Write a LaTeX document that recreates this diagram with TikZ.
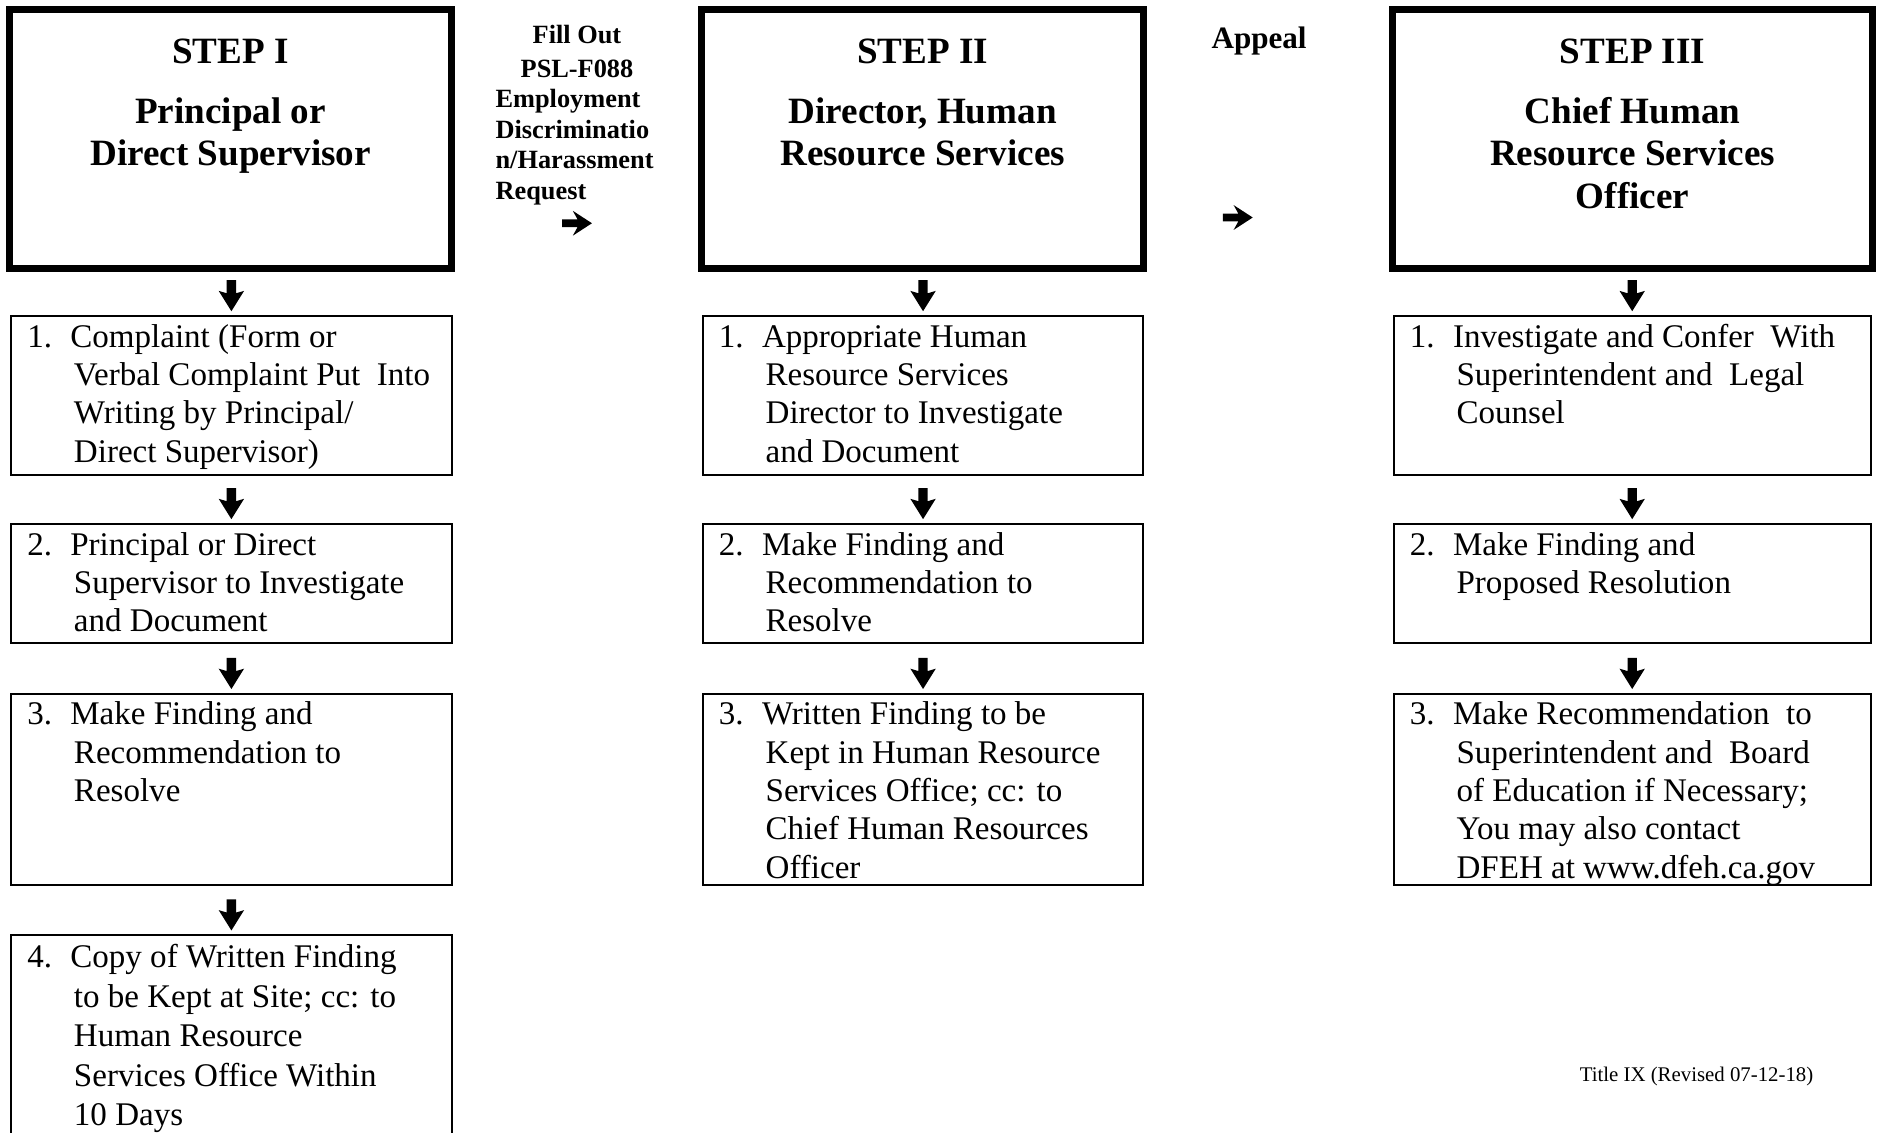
\documentclass[tikz,border=0pt]{standalone}
\usepackage{fontspec}
\setmainfont{Liberation Serif}
\usetikzlibrary{calc}
\newcommand\itemtab[3]{\begin{tabular}[t]{@{}l@{}l@{}}\makebox[19.5pt][l]{#1}&\hspace{-1.5pt}#2\\#3\end{tabular}}
\tikzset{
  bigbox/.style={draw, line width=3pt, minimum width=184.75pt, minimum height=108pt, inner sep=0pt},
  smallbox/.style={draw, line width=0.9pt, inner sep=0pt},
  bodytxt/.style={inner sep=0pt, anchor=base west, font=\fontsize{13.8pt}{16pt}\selectfont},
  titletxt/.style={inner sep=0pt, anchor=base, font=\bfseries\fontsize{15.5pt}{17.75pt}\selectfont},
  sidetxt/.style={inner sep=0pt, font=\bfseries\fontsize{11pt}{12.75pt}\selectfont},
  notetxt/.style={inner sep=0pt, anchor=base west, font=\fontsize{8.7pt}{10pt}\selectfont},
  downarr/.pic={\fill (0,0) -- (10.6,-17) -- (3.9,-15) -- (3.9,-26) -- (-3.9,-26) -- (-3.9,-15) -- (-10.6,-17) -- cycle;},
  rightarr/.pic={\fill (0,0) -- (-16,-10.4) -- (-12,-3.2) -- (-25,-3.2) -- (-25,3.2) -- (-12,3.2) -- (-16,10.4) -- cycle;}
}
\begin{document}
\begin{tikzpicture}[x=0.5pt,y=-0.5pt]
\useasboundingbox (0,0) rectangle (1568,946);

% big step boxes
\node[bigbox] (s1) at (192.65,116) {};
\node[bigbox] (s2) at (770.75,116) {};
\node[bigbox, minimum width=200.4pt] (s3) at (1363.8,116) {};

\node[titletxt] (h1) at ($(s1.north)+(0,48)$) {\begin{tabular}[t]{@{}c@{}}STEP I\\[7.25pt]Principal or\\Direct Supervisor\end{tabular}};
\node[titletxt] (h2) at ($(s2.north)+(0,48)$) {\begin{tabular}[t]{@{}c@{}}STEP II\\[7.25pt]Director, Human\\Resource Services\end{tabular}};
\node[titletxt] (h3) at ($(s3.north)+(0,48)$) {\begin{tabular}[t]{@{}c@{}}STEP III\\[7.25pt]Chief Human\\Resource Services\\Officer\end{tabular}};

% side labels
\node[sidetxt, anchor=base west] (fill) at (413.6,36) {\begin{tabular}[t]{@{}l@{}}\makebox[68pt][c]{Fill Out}\\[1.5pt]\makebox[68pt][c]{PSL-F088}\\Employment\\Discriminatio\\n/Harassment\\Request\end{tabular}};
\node[inner sep=0pt, anchor=base, font=\bfseries\fontsize{13pt}{15pt}\selectfont] (appeal) at (1051.8,40.4) {Appeal};
\coordinate (reqtip) at (494.5,186.5);
\coordinate (apptip) at (1046.5,181.7);
\pic at (reqtip) {rightarr};
\pic at (apptip) {rightarr};

% small boxes column I
\node[smallbox, minimum width=184pt, minimum height=66.35pt] (b1a) at (193.3,330.25) {};
\node[smallbox, minimum width=184pt, minimum height=49.75pt] (b1b) at (193.3,487.35) {};
\node[smallbox, minimum width=184pt, minimum height=79.95pt] (b1c) at (193.3,659.45) {};
\node[smallbox, minimum width=184pt, minimum height=89.4pt] (b1d) at (193.3,870.6) {};
% column II
\node[smallbox, minimum width=184pt, minimum height=66.35pt] (b2a) at (771.1,330.25) {};
\node[smallbox, minimum width=184pt, minimum height=49.75pt] (b2b) at (771.1,487.35) {};
\node[smallbox, minimum width=184pt, minimum height=79.95pt] (b2c) at (771.1,659.45) {};
% column III
\node[smallbox, minimum width=199.2pt, minimum height=66.35pt] (b3a) at (1363.5,330.25) {};
\node[smallbox, minimum width=199.2pt, minimum height=49.75pt] (b3b) at (1363.5,487.35) {};
\node[smallbox, minimum width=199.2pt, minimum height=79.95pt] (b3c) at (1363.5,659.45) {};

% texts column I
\node[bodytxt] (t1a) at ($(b1a.north west)+(14,27)$) {\itemtab{1.}{Complaint (Form or}{&Verbal Complaint Put\ \ Into\\&Writing by Principal/\\&Direct Supervisor)}};
\node[bodytxt] (t1b) at ($(b1b.north west)+(14,27)$) {\itemtab{2.}{Principal or Direct}{&Supervisor to Investigate\\&and Document}};
\node[bodytxt] (t1c) at ($(b1c.north west)+(14,27)$) {\itemtab{3.}{Make Finding and}{&Recommendation to\\&Resolve}};
\node[bodytxt, font=\fontsize{13.8pt}{16.5pt}\selectfont] (t1d) at ($(b1d.north west)+(14,28)$) {\itemtab{4.}{Copy of Written Finding}{&to be Kept at Site; cc: to\\&Human Resource\\&Services Office Within\\&10 Days}};
% texts column II
\node[bodytxt] (t2a) at ($(b2a.north west)+(14,27)$) {\itemtab{1.}{Appropriate Human}{&Resource Services\\&Director to Investigate\\&and Document}};
\node[bodytxt] (t2b) at ($(b2b.north west)+(14,27)$) {\itemtab{2.}{Make Finding and}{&Recommendation to\\&Resolve}};
\node[bodytxt] (t2c) at ($(b2c.north west)+(14,27)$) {\itemtab{3.}{Written Finding to be}{&Kept in Human Resource\\&Services Office; cc: to\\&Chief Human Resources\\&Officer}};
% texts column III
\node[bodytxt] (t3a) at ($(b3a.north west)+(14,27)$) {\itemtab{1.}{Investigate and Confer\ \ With}{&Superintendent and\ \ Legal\\&Counsel}};
\node[bodytxt] (t3b) at ($(b3b.north west)+(14,27)$) {\itemtab{2.}{Make Finding and}{&Proposed Resolution}};
\node[bodytxt] (t3c) at ($(b3c.north west)+(14,27)$) {\itemtab{3.}{Make Recommendation\ \ to}{&Superintendent and\ \ Board\\&of Education if Necessary;\\&You may also contact\\&DFEH at www.dfeh.ca.gov}};

% down arrows
\pic at ($(b1a.north)+(0,-3)$) {downarr};
\pic at ($(b1b.north)+(0,-3)$) {downarr};
\pic at ($(b1c.north)+(0,-3)$) {downarr};
\pic at ($(b1d.north)+(0,-3)$) {downarr};
\pic at ($(b2a.north)+(0,-3)$) {downarr};
\pic at ($(b2b.north)+(0,-3)$) {downarr};
\pic at ($(b2c.north)+(0,-3)$) {downarr};
\pic at ($(b3a.north)+(0,-3)$) {downarr};
\pic at ($(b3b.north)+(0,-3)$) {downarr};
\pic at ($(b3c.north)+(0,-3)$) {downarr};

% footer
\node[notetxt] (note) at (1319.3,903.6) {Title IX (Revised 07-12-18)};
\end{tikzpicture}
\end{document}
